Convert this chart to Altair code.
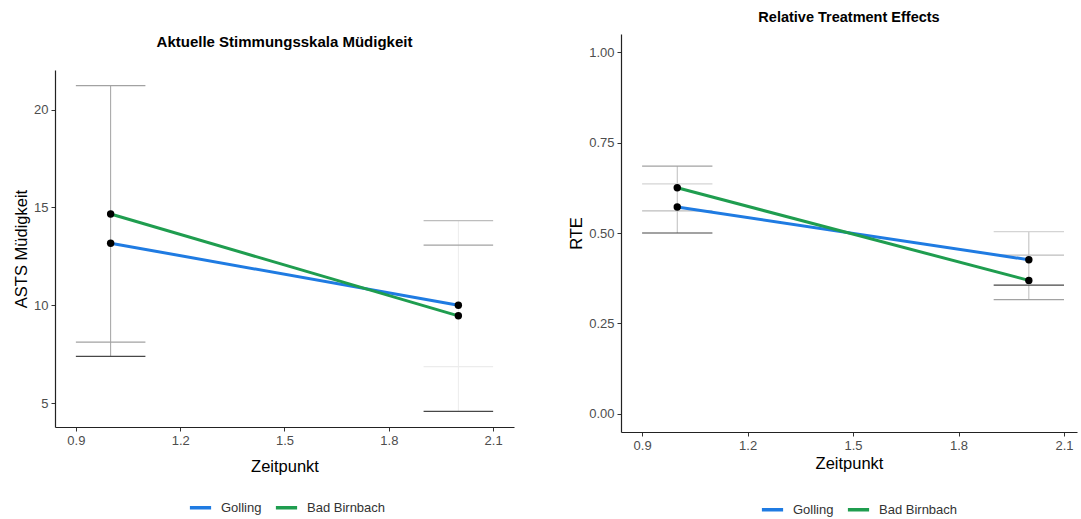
import altair as alt
import pandas as pd

groups = ["Golling", "Bad Birnbach"]
times = [1, 2]
line_colors = ["#1f7be2", "#1f9d4f"]

# Panel 1: ASTS Müdigkeit
asts_golling = [13.17, 10.0]
asts_bb = [14.66, 9.46]
asts_bar_time = [1, 2]
asts_bar_low = [7.39, 4.58]
asts_bar_high = [21.22, 14.32]
asts_bar_tone = ["mid", "faint"]
asts_cap_time = [1, 1, 1, 2, 2, 2, 2]
asts_cap_value = [21.22, 8.12, 7.39, 14.32, 13.07, 6.86, 4.58]
asts_cap_tone = ["mid", "mid", "dark", "light", "mid", "faint", "dark"]

# Panel 2: RTE
rte_golling = [0.572, 0.426]
rte_bb = [0.625, 0.369]
rte_bar_time = [1, 2]
rte_bar_low = [0.50, 0.316]
rte_bar_high = [0.685, 0.504]
rte_bar_tone = ["light", "light"]
rte_cap_time = [1, 1, 1, 1, 2, 2, 2, 2]
rte_cap_value = [0.685, 0.636, 0.561, 0.50, 0.504, 0.439, 0.356, 0.316]
rte_cap_tone = ["mid", "pale", "light", "dark", "pale", "light", "dark", "mid"]

tones = ["dark", "mid", "light", "pale", "faint"]
tone_colors = ["#474747", "#a2a2a2", "#bdbdbd", "#d4d4d4", "#ececec"]

x_ticks = [0.9, 1.2, 1.5, 1.8, 2.1]
asts_ticks = [5, 10, 15, 20]
rte_ticks = [0.0, 0.25, 0.5, 0.75, 1.0]

FONT = "Liberation Sans"


def panel(g_vals, b_vals, bar_t, bar_lo, bar_hi, bar_tone, cap_t, cap_v, cap_tone,
          xdomain, ydomain, yticks, yfmt, ytitle, title_params, w, h, legx, legy, xtitlepad):
    pts = pd.DataFrame({
        "Zeitpunkt": times * 2,
        "value": g_vals + b_vals,
        "group": [groups[0]] * 2 + [groups[1]] * 2,
    })
    bars = pd.DataFrame({"t": bar_t, "lo": bar_lo, "hi": bar_hi, "tone": bar_tone})
    caps = pd.DataFrame({"t": cap_t, "v": cap_v, "tone": cap_tone})

    xscale = alt.Scale(domain=xdomain, nice=False, zero=False)
    yscale = alt.Scale(domain=ydomain, nice=False, zero=False)
    xaxis = alt.Axis(values=x_ticks, format=".1f", title="Zeitpunkt", titlePadding=xtitlepad)
    yaxis = alt.Axis(values=yticks, format=yfmt, title=ytitle)
    tone_scale = alt.Scale(domain=tones, range=tone_colors)

    vbar = alt.Chart(bars).mark_rule(strokeWidth=1).encode(
        x=alt.X("t:Q", scale=xscale, axis=xaxis),
        y=alt.Y("lo:Q", scale=yscale, axis=yaxis),
        y2="hi:Q",
        stroke=alt.Stroke("tone:N", scale=tone_scale, legend=None),
    )
    capl = alt.Chart(caps).transform_calculate(
        x1="datum.t - 0.1", x2="datum.t + 0.1"
    ).mark_rule(strokeWidth=1.2).encode(
        x=alt.X("x1:Q", scale=xscale),
        x2="x2:Q",
        y=alt.Y("v:Q", scale=yscale),
        stroke=alt.Stroke("tone:N", scale=tone_scale, legend=None),
    )
    lines = alt.Chart(pts).mark_line(strokeWidth=3).encode(
        x=alt.X("Zeitpunkt:Q", scale=xscale),
        y=alt.Y("value:Q", scale=yscale),
        color=alt.Color("group:N", sort=groups,
                        scale=alt.Scale(domain=groups, range=line_colors),
                        legend=alt.Legend(title=None, orient="none", direction="horizontal",
                                          legendX=legx, legendY=legy,
                                          symbolType="stroke", symbolStrokeWidth=3.5,
                                          symbolSize=450, labelFontSize=13,
                                          labelOffset=8,
                                          labelColor="#333333", labelFont=FONT,
                                          columnPadding=6)),
    )
    points = alt.Chart(pts).mark_circle(size=55, color="black", opacity=1).encode(
        x=alt.X("Zeitpunkt:Q", scale=xscale),
        y=alt.Y("value:Q", scale=yscale),
    )
    return alt.layer(vbar, capl, lines, points).properties(
        width=w, height=h, title=title_params
    )


left = panel(asts_golling, asts_bb, asts_bar_time, asts_bar_low, asts_bar_high, asts_bar_tone,
             asts_cap_time, asts_cap_value, asts_cap_tone,
             [0.84, 2.16], [3.78, 22.02], asts_ticks, "d", "ASTS Müdigkeit",
             alt.TitleParams(text="Aktuelle Stimmungsskala Müdigkeit", fontSize=15,
                             fontWeight="bold", font=FONT, offset=20,
                             anchor="middle", color="black"),
             459, 357, 133, 461, 11)

right = panel(rte_golling, rte_bb, rte_bar_time, rte_bar_low, rte_bar_high, rte_bar_tone,
              rte_cap_time, rte_cap_value, rte_cap_tone,
              [0.84, 2.137], [-0.05, 1.05], rte_ticks, ".2f", "RTE",
              alt.TitleParams(text="Relative Treatment Effects", fontSize=14.5,
                              fontWeight="bold", font=FONT, offset=8.5,
                              anchor="middle", color="black"),
              456, 398, 139, 463, 3)

spacer = alt.Chart(pd.DataFrame({"a": []})).mark_point(opacity=0).properties(
    width=459, height=1
)

left_col = alt.vconcat(spacer, left, spacing=0)

chart = alt.hconcat(left_col, right, spacing=54).resolve_scale(
    x="independent", y="independent", color="independent", stroke="independent"
).properties(
    padding={"left": 13, "top": 10, "right": 2, "bottom": 2}
).configure_view(stroke=None).configure_axis(
    grid=False,
    domainColor="#222222",
    domainWidth=1.2,
    tickColor="#333333",
    tickSize=4,
    labelColor="#4d4d4d",
    labelFontSize=13,
    labelFont=FONT,
    labelPadding=3,
    titleFont=FONT,
    titleFontSize=16.5,
    titleFontWeight="normal",
    titleColor="black",
)

chart.save("out.html", embed_options={"renderer": "svg", "actions": False})
